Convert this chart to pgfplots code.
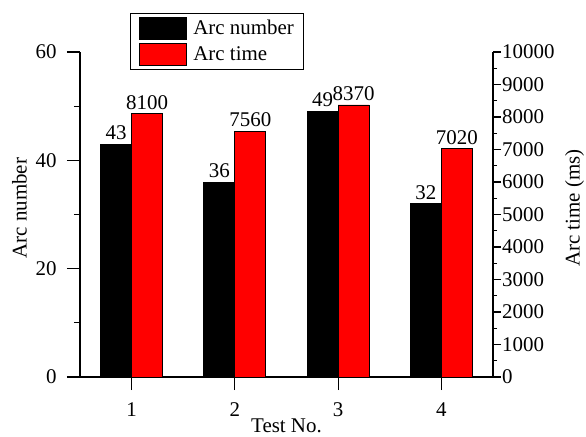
\documentclass[border=0pt]{standalone}
\usepackage{fontspec}
\setmainfont{Liberation Serif}
\usepackage{pgfplots}
\pgfplotsset{compat=1.18}
\pgfplotsset{
  common/.style={
    scale only axis, width=413bp, height=325bp,
    at={(0,0)}, anchor=south west,
    xmin=0.5, xmax=4.5, ymin=0,
    ybar, bar width=0.3,
    tick align=outside,
    /pgf/number format/assume math mode=true,
    /pgf/number format/1000 sep={},
    tick label style={font=\fontsize{21}{24}\selectfont},
    label style={font=\fontsize{21}{24}\selectfont},
    axis line style={line width=1.2bp},
    every tick/.style={line width=1.2bp, black},
    nodes near coords,
    every node near coord/.append style={font=\fontsize{21}{24}\selectfont, black, inner sep=2bp, yshift=2bp},
    clip=false,
  }
}
\begin{document}
\begin{tikzpicture}
\useasboundingbox (-80bp,-60bp) rectangle (506bp,377bp);
\begin{axis}[common,
  ymax=60,
  axis x line*=bottom, axis y line*=left,
  xtick={1,2,3,4},
  ytick={0,20,40,60}, minor ytick={10,30,50},
  major tick length=13bp, minor tick length=6bp,
  xticklabel style={yshift=-9bp},
  yticklabel style={xshift=-7bp},
  bar shift=-0.15,
  xlabel={Test No.},
  ylabel={Arc number},
  xlabel style={at={(axis description cs:0.5,0)}, anchor=north, inner sep=0pt, yshift=-42bp},
  ylabel style={at={([xshift=-68bp]axis description cs:0,0.52)}, anchor=north, inner sep=0pt},
]
\addplot[fill=black, draw=black, line width=0.8bp] coordinates {(1,43) (2,36) (3,49) (4,32)};
\end{axis}
\begin{axis}[common,
  ymax=10000,
  axis x line=none, axis y line*=right,
  ytick={0,1000,...,10000}, minor ytick={500,1500,...,9500},
  major tick length=8bp, minor tick length=4bp,
  scaled y ticks=false,
  yticklabel style={inner xsep=1bp},
  bar shift=0.15,
  ylabel={Arc time (ms)},
  ylabel style={at={([xshift=72bp]axis description cs:1,0.52)}, anchor=north, inner sep=0pt},
  legend style={at={(0.121,1.12)}, anchor=north west, draw=black, line width=1.2bp,
    font=\fontsize{21}{24}\selectfont, inner xsep=8bp, inner ysep=3bp, row sep=4bp,
    /tikz/every odd column/.append style={column sep=5bp}},
  legend cell align=left,
  legend image code/.code={\draw[#1, line width=0.8bp] (0bp,-11bp) rectangle (47bp,11bp);},
]
\addlegendimage{fill=black, draw=black}
\addlegendentry{Arc number}
\addplot[fill=red, draw=black, line width=0.8bp] coordinates {(1,8100) (2,7560) (3,8370) (4,7020)};
\addlegendentry{Arc time}
\end{axis}
\end{tikzpicture}
\end{document}
